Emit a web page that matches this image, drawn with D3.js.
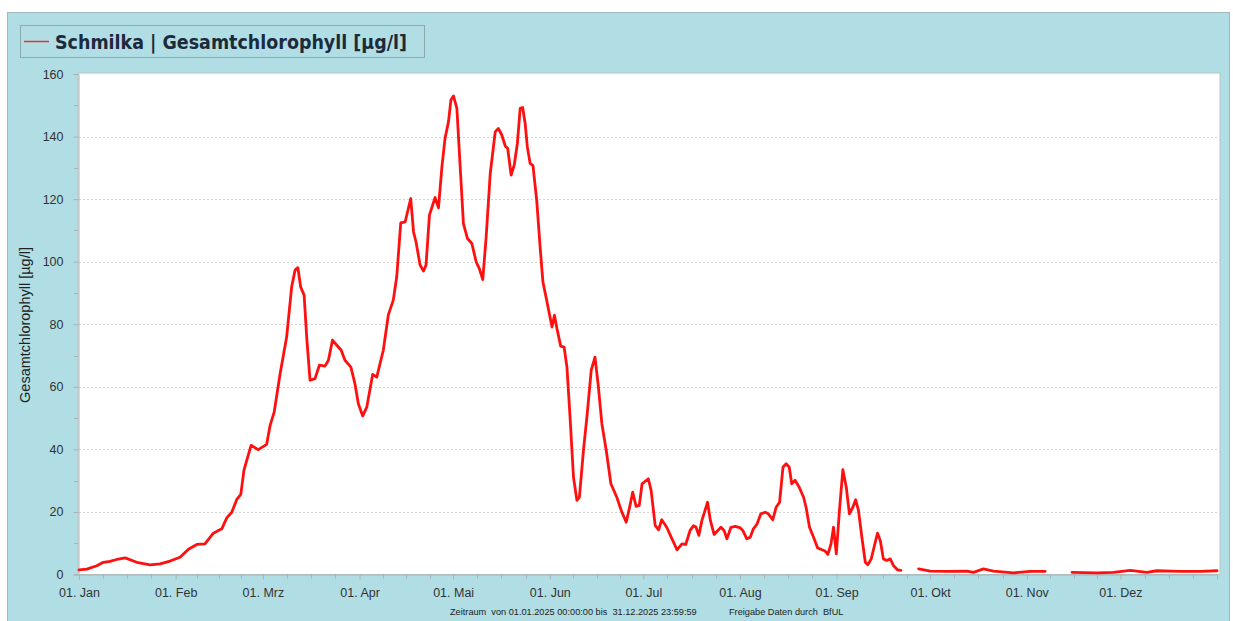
<!DOCTYPE html>
<html><head><meta charset="utf-8">
<script src="https://cdn.jsdelivr.net/npm/d3@7"></script>
<style>html,body{margin:0;padding:0;background:#fff;}svg{display:block;}</style>
</head><body>
<svg id="chart" width="1233" height="621"></svg>
<script>
// ---- data (day offset from 01.01.2025, value in µg/l; null = gap) ----
const seriesName = "Schmilka | Gesamtchlorophyll [µg/l]";
const yTitle = "Gesamtchlorophyll [µg/l]";
const monthLabels = ["01. Jan","01. Feb","01. Mrz","01. Apr","01. Mai","01. Jun","01. Jul","01. Aug","01. Sep","01. Okt","01. Nov","01. Dez"];
const yTicks = [0,20,40,60,80,100,120,140,160];
const footerLeft = "Zeitraum  von 01.01.2025 00:00:00 bis  31.12.2025 23:59:59";
const footerRight = "Freigabe Daten durch  BfUL";
const days = [0,2.5,5.7,7.8,9.9,12.1,14.8,18.5,22.8,26.0,29.2,32.4,35.1,37.8,40.4,43.1,45.8,47.4,49.0,50.6,
51.9,52.9,53.8,55.2,57.5,60.2,61.3,62.6,64.5,66.6,68.2,69.3,70.2,71.1,72.2,73.1,74.1,75.7,77.1,78.9,
80.0,81.3,82.7,84.1,85.3,87.2,88.5,89.6,91.0,92.3,94.2,95.5,97.6,99.2,100.8,101.9,103.2,104.6,106.4,107.3,
108.1,109.4,110.5,111.3,112.4,114.2,115.3,116.4,117.4,118.5,119.3,120.1,121.2,122.2,123.3,124.6,126.0,127.4,128.4,129.5,
130.6,131.9,133.5,134.5,135.6,136.7,137.5,138.6,139.6,140.6,141.5,142.3,143.1,143.8,144.7,145.6,146.8,147.9,148.8,150.0,
151.7,152.5,153.3,154.5,155.6,156.5,157.5,158.6,159.7,160.5,161.8,162.9,164.3,165.5,166.6,167.7,169.1,170.6,172.5,173.9,
175.5,176.6,177.6,178.7,179.7,180.6,182.6,183.5,184.8,185.9,186.9,188.5,190.2,191.8,193.4,194.6,196.0,197.1,197.9,198.8,
199.8,201.6,202.5,203.7,205.9,206.9,207.8,209.1,210.5,212.1,212.9,214.2,215.3,216.3,217.4,218.7,220.1,221.1,222.5,223.6,
224.7,225.8,226.8,227.8,228.6,229.7,231.0,232.4,233.2,234.3,235.6,236.9,238.3,239.3,240.2,241.2,242.0,242.9,243.9,245.0,
246.1,247.1,248.2,249.1,250.0,251.1,252.2,253.0,254.1,255.0,256.1,257.0,258.0,259.1,260.2,261.2,262.5,263.6,266,
269.3,273.0,278.4,284.8,286.9,290.1,293.3,299.7,305.1,309.9,314,
318.5,326.5,331.8,337.2,342.5,345.7,353.2,359.6,365.0];
const values = [1.5,1.7,2.8,3.9,4.2,4.8,5.3,3.9,3.1,3.4,4.3,5.5,8.1,9.6,9.8,13.2,14.6,18.1,19.9,24,
25.6,33.3,36.5,41.3,39.9,41.6,47.7,51.9,64.2,75.9,91.9,97.3,98.1,91.9,89.3,74.9,62.1,62.6,66.9,66.6,
68.5,74.9,73.3,71.7,68.5,66.3,61,54.6,50.7,53.5,64,63.1,71.7,82.9,87.7,95.1,112.4,112.7,120.2,109.5,
106.3,98.9,97,98.9,114.9,120.5,117.2,130.3,139.4,144.7,151.7,153,149,131.4,112.2,107.4,105.8,99.9,97.8,94.3,
108,128.2,141.5,142.6,140.5,137,136.2,127.7,130.9,137.8,149,149.3,144.2,136.7,131.4,130.7,119.7,104.7,93.5,87.7,
79.1,82.9,78.6,73,72.7,66.3,50.3,31.1,23.7,24.7,39.7,50.3,65.3,69.5,59.9,48.2,39.7,29,24.7,20.5,
16.7,21.5,26.3,21.8,22.1,29,30.6,26.9,15.7,14.3,17.5,15.1,11.4,7.9,9.8,9.6,14.1,15.6,15.1,12.5,
17.3,23.1,17.3,12.8,15.1,14.1,11.4,15.1,15.4,14.9,14.1,11.4,11.9,14.6,16,19.4,19.9,19.4,17.5,21.5,
23.1,34.3,35.4,34.3,29,30.1,27.9,24.7,21.5,15.1,11.9,8.5,7.9,7.5,6.4,9.8,15.1,6.6,20.5,33.5,
27.9,19.4,21.5,23.9,20.5,11.9,3.9,3.1,5,8.7,13.2,10.9,5,4.5,5,2.9,1.5,1.3,null,
1.8,1.1,1.0,1.1,0.7,1.8,1.1,0.5,1.0,1.0,null,
0.7,0.5,0.7,1.3,0.7,1.2,1.0,1.0,1.2];

// ---- drawing ----
const W = 1233, H = 621;
const plot = {left: 78, right: 1220, top: 73, bottom: 574.5};
const svg = d3.select("#chart");
const font = "'Liberation Sans', Arial, sans-serif";
const DAY = 86400000;
const t0 = Date.UTC(2025,0,1);
const toDate = d => new Date(t0 + d*DAY);
const data = days.map((d,i) => ({date: toDate(d), v: values[i]}));

const x = d3.scaleUtc().domain([new Date(Date.UTC(2025,0,1)), new Date(Date.UTC(2026,0,1))]).range([79, 1217]);
const y = d3.scaleLinear().domain([0,160]).range([plot.bottom, plot.top + 1]);

// panel
svg.append("rect").attr("x",0).attr("y",0).attr("width",W).attr("height",H).attr("fill","#ffffff");
svg.append("rect").attr("x",7.5).attr("y",12.5).attr("width",1222).attr("height",615)
  .attr("fill","#b0dee4").attr("stroke","#9fb9bd").attr("stroke-width",1);

// legend
const lg = svg.append("g");
lg.append("rect").attr("x",20.5).attr("y",25.5).attr("width",404).attr("height",32)
  .attr("fill","#b0dee4").attr("stroke","#8ea9ae").attr("stroke-width",1);
lg.append("line").attr("x1",24).attr("x2",49).attr("y1",41.5).attr("y2",41.5)
  .attr("stroke","#e8303a").attr("stroke-width",1.5);
lg.append("text").attr("x",55).attr("y",48.5).text(seriesName)
  .attr("font-family","'DejaVu Sans', Verdana, sans-serif").attr("font-weight","bold")
  .attr("font-size",19).attr("fill","#1c2a3c")
  .attr("textLength",352).attr("lengthAdjust","spacingAndGlyphs");

// plot area
svg.append("rect").attr("x",plot.left).attr("y",plot.top).attr("width",plot.right-plot.left).attr("height",plot.bottom-plot.top)
  .attr("fill","#ffffff").attr("stroke","#b8c4c6").attr("stroke-width",1);

// grid
svg.append("g").selectAll("line").data(yTicks.filter(v => v>0 && v<160)).join("line")
  .attr("x1",plot.left+1).attr("x2",plot.right-1)
  .attr("y1",d=>Math.round(y(d))+0.5).attr("y2",d=>Math.round(y(d))+0.5)
  .attr("stroke","#d4d4d4").attr("stroke-width",1).attr("stroke-dasharray","2,2");

// y axis
const yAxis = d3.axisLeft(y).tickValues(yTicks).tickSize(5).tickPadding(10).tickFormat(d3.format("d"));
const gy = svg.append("g").attr("transform",`translate(${plot.left+0.5},0)`).call(yAxis);
gy.select(".domain").attr("stroke","#a9b3b5");
gy.selectAll(".tick line").attr("stroke","#a9b3b5");
gy.selectAll(".tick text").attr("font-family",font).attr("font-size",12.5).attr("fill","#333");
const yMinor = d3.range(10,160,20);
svg.append("g").selectAll("line").data(yMinor).join("line")
  .attr("x1",plot.left-4).attr("x2",plot.left)
  .attr("y1",d=>Math.round(y(d))+0.5).attr("y2",d=>Math.round(y(d))+0.5)
  .attr("stroke","#a9b3b5");

// x axis
const months = d3.utcMonth.range(new Date(Date.UTC(2025,0,1)), new Date(Date.UTC(2026,0,1)));
const xAxis = d3.axisBottom(x).tickValues(months).tickSize(5).tickPadding(9)
  .tickFormat((d,i) => monthLabels[i]);
const gx = svg.append("g").attr("transform",`translate(0,${plot.bottom})`).call(xAxis);
gx.select(".domain").attr("stroke","#a9b3b5");
gx.selectAll(".tick line").attr("stroke","#a9b3b5");
gx.selectAll(".tick text").attr("font-family",font).attr("font-size",12.5).attr("fill","#333");
const xMinor = [];
months.forEach(m => {
  const next = d3.utcMonth.offset(m,1);
  const len = (next - m);
  for (let k=1;k<4;k++) xMinor.push(new Date(+m + len*k/4));
});
svg.append("g").selectAll("line").data(xMinor).join("line")
  .attr("x1",d=>Math.round(x(d))+0.5).attr("x2",d=>Math.round(x(d))+0.5)
  .attr("y1",plot.bottom).attr("y2",plot.bottom+4).attr("stroke","#a9b3b5");

// y title
svg.append("text").attr("transform","translate(30,325) rotate(-90)").attr("text-anchor","middle")
  .attr("font-family",font).attr("font-size",14.5).attr("fill","#222").text(yTitle);

// line
const line = d3.line().defined(d => d.v !== null).x(d => x(d.date)).y(d => y(d.v));
svg.append("path").datum(data).attr("d",line).attr("fill","none")
  .attr("stroke","#ff1010").attr("stroke-width",2.8).attr("stroke-linejoin","round").attr("stroke-linecap","round");

// footer
svg.append("text").attr("x",450).attr("y",615).attr("font-family",font).attr("font-size",9.2)
  .attr("fill","#222").style("white-space","pre").text(footerLeft);
svg.append("text").attr("x",729).attr("y",615).attr("font-family",font).attr("font-size",9.2)
  .attr("fill","#222").style("white-space","pre").text(footerRight);
</script>
</body></html>
